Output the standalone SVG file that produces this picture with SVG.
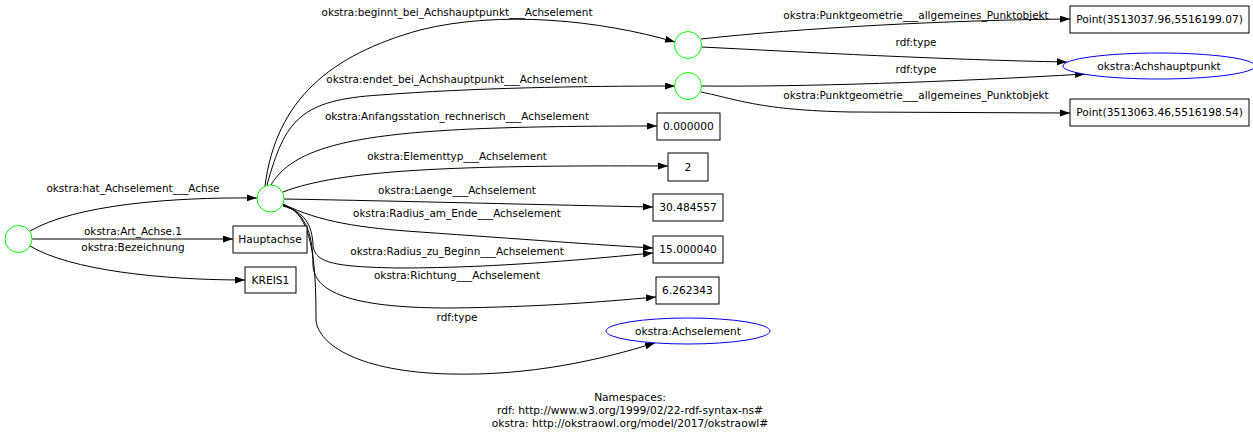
<svg xmlns="http://www.w3.org/2000/svg" width="1253" height="434" viewBox="0 0 1253 434">
<style>
text { font-family: "DejaVu Sans", "Liberation Sans", sans-serif; font-size: 10.45px; fill: #000; text-anchor: middle; }
.nt, #namespaces text { font-size: 10.65px; }
.bnode { fill: #fff; stroke: #00ff00; stroke-width: 1; }
.lit { fill: #fff; stroke: #000; stroke-width: 1; }
.cls { fill: #fff; stroke: #0000ff; stroke-width: 1; }
.edge { fill: none; stroke: #000; stroke-width: 1; marker-end: url(#arr); }
</style>
<defs>
<marker id="arr" markerUnits="userSpaceOnUse" markerWidth="10" markerHeight="8" refX="10" refY="3.5" orient="auto">
<path d="M0,0 L10,3.5 L0,7 z" fill="#000"/>
</marker>
</defs>
<rect width="1253" height="434" fill="#fff"/>
<g id="connectors">
<path class="edge" d="M30,231 C75,205 170,197 257,198"/>
<text x="133" y="192">okstra:hat_Achselement___Achse</text>
<path class="edge" d="M32,239 L233,239"/>
<text x="133" y="235">okstra:Art_Achse.1</text>
<path class="edge" d="M30,246 C70,270 160,280 245,280"/>
<text x="133" y="251">okstra:Bezeichnung</text>
<path class="edge" d="M265,186 C276,100 330,55 420,30 C500,10 600,20 675,42"/>
<text x="457" y="16">okstra:beginnt_bei_Achshauptpunkt___Achselement</text>
<path class="edge" d="M267,185 C285,120 300,100 380,95 C470,88 580,86 675,86"/>
<text x="457" y="83">okstra:endet_bei_Achshauptpunkt___Achselement</text>
<path class="edge" d="M271,185 C300,135 400,126 657,126"/>
<text x="457" y="120">okstra:Anfangsstation_rechnerisch___Achselement</text>
<path class="edge" d="M283,192 C340,170 450,165 668,166"/>
<text x="457" y="160">okstra:Elementtyp___Achselement</text>
<path class="edge" d="M284,199 C400,201 550,205 653,207"/>
<text x="457" y="194">okstra:Laenge___Achselement</text>
<path class="edge" d="M283,204 C320,222 360,228 420,232 C520,239 600,245 653,248"/>
<text x="457" y="217">okstra:Radius_am_Ende___Achselement</text>
<path class="edge" d="M283,206 C305,212 312,225 313,245 C315,262 330,267 400,268 C500,268 600,258 653,253"/>
<text x="457" y="255">okstra:Radius_zu_Beginn___Achselement</text>
<path class="edge" d="M283,205 C308,212 313,240 313,265 C314,295 360,308 450,308 C540,307 600,302 656,297"/>
<text x="457" y="279">okstra:Richtung___Achselement</text>
<path class="edge" d="M283,205 C312,212 316,260 316,320 C318,345 360,372 450,374 C530,376 600,360 655,343"/>
<text x="457" y="321">rdf:type</text>
<path class="edge" d="M701,39 C800,28 950,20 1070,19"/>
<text x="916" y="19">okstra:Punktgeometrie___allgemeines_Punktobjekt</text>
<path class="edge" d="M702,47 C800,52 950,60 1067,62"/>
<text x="916" y="46">rdf:type</text>
<path class="edge" d="M702,86 C800,87 950,82 1085,74"/>
<text x="916" y="73">rdf:type</text>
<path class="edge" d="M701,92 C740,100 760,110 850,112 L1070,113"/>
<text x="916" y="99">okstra:Punktgeometrie___allgemeines_Punktobjekt</text>
</g>
<g id="n_root"><circle class="bnode" cx="18.5" cy="239" r="13.5"/></g>
<g id="n_achselement"><circle class="bnode" cx="270.5" cy="198.5" r="13.5"/></g>
<g id="n_ahp1"><circle class="bnode" cx="688" cy="45" r="13.5"/></g>
<g id="n_ahp2"><circle class="bnode" cx="688" cy="86" r="13.5"/></g>
<g id="n_hauptachse"><rect class="lit" x="233" y="226" width="74" height="27"/><text class="nt" x="270" y="243">Hauptachse</text></g>
<g id="n_kreis1"><rect class="lit" x="245" y="267" width="51" height="26"/><text class="nt" x="270.5" y="284">KREIS1</text></g>
<g id="n_anfang"><rect class="lit" x="657" y="113" width="63" height="27"/><text class="nt" x="688.5" y="130">0.000000</text></g>
<g id="n_typ"><rect class="lit" x="668" y="153" width="40" height="28"/><text class="nt" x="688" y="171">2</text></g>
<g id="n_laenge"><rect class="lit" x="653" y="194" width="70" height="27"/><text class="nt" x="688" y="211">30.484557</text></g>
<g id="n_radius"><rect class="lit" x="653" y="236" width="70" height="27"/><text class="nt" x="688" y="253">15.000040</text></g>
<g id="n_richtung"><rect class="lit" x="656" y="277" width="63" height="27"/><text class="nt" x="687.5" y="294">6.262343</text></g>
<g id="n_cls_achselement"><ellipse class="cls" cx="688" cy="331" rx="82" ry="13"/><text class="nt" x="688" y="335">okstra:Achselement</text></g>
<g id="n_point1"><rect class="lit" x="1070" y="6" width="179" height="27"/><text class="nt" x="1159.5" y="23">Point(3513037.96,5516199.07)</text></g>
<g id="n_cls_ahp"><ellipse class="cls" cx="1159" cy="66" rx="96" ry="13"/><text class="nt" x="1159" y="70">okstra:Achshauptpunkt</text></g>
<g id="n_point2"><rect class="lit" x="1070" y="99" width="179" height="27"/><text class="nt" x="1159.5" y="116">Point(3513063.46,5516198.54)</text></g>
<g id="namespaces">
<text x="630" y="401">Namespaces:</text>
<text x="630" y="414">rdf: http://www.w3.org/1999/02/22-rdf-syntax-ns#</text>
<text x="630" y="427">okstra: http://okstraowl.org/model/2017/okstraowl#</text>
</g>
</svg>
